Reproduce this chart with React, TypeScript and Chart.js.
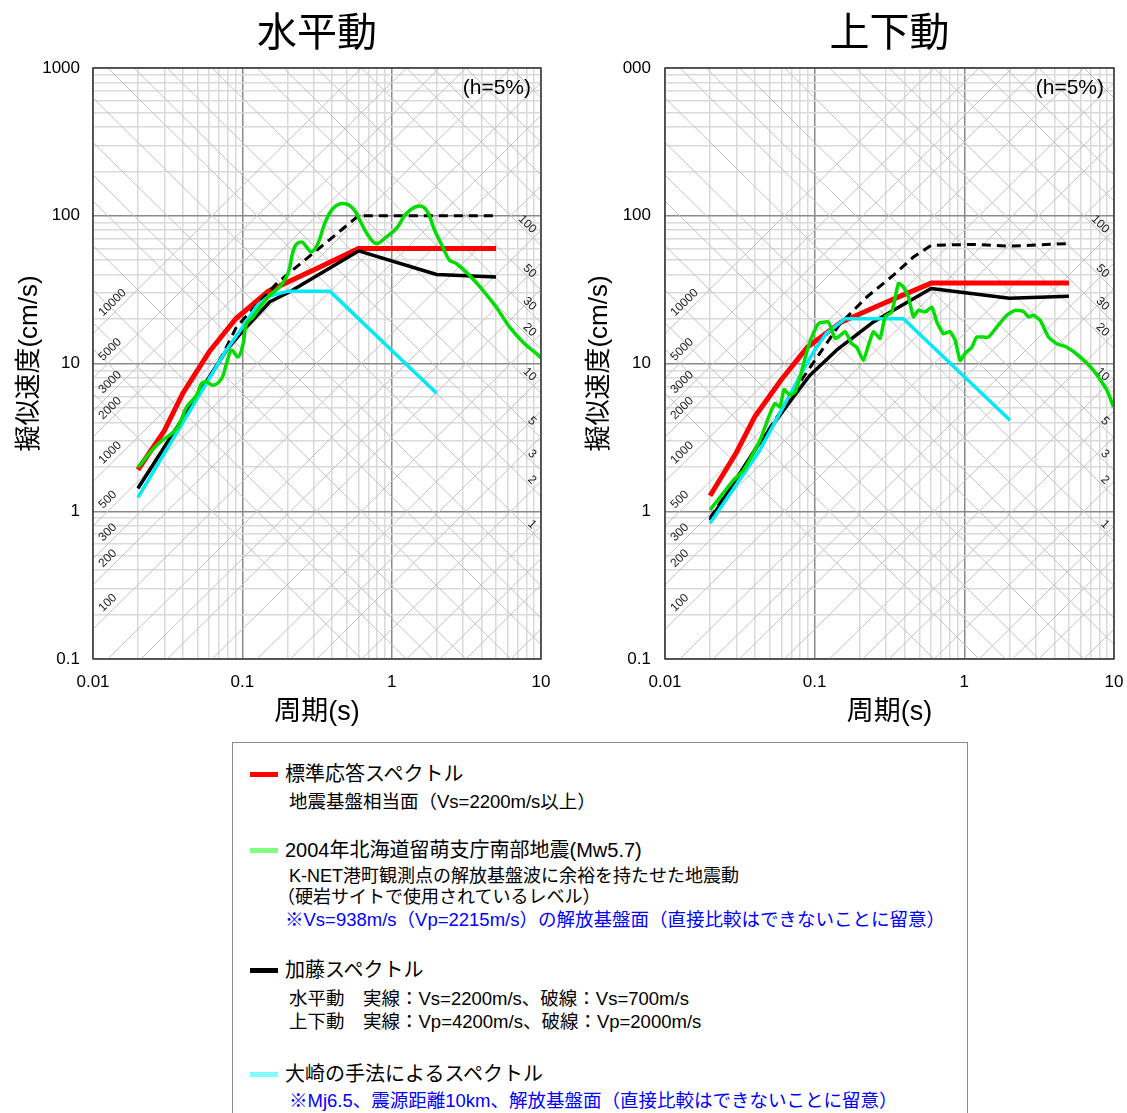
import React, { useEffect, useRef } from 'react';
import { Chart, registerables } from 'chart.js';

Chart.register(...registerables);

const FONT = "'Liberation Sans', 'Noto Sans CJK JP', sans-serif";

// ---- axes ----
const xTickValues = [0.01, 0.1, 1, 10];
const xTickLabels = ['0.01', '0.1', '1', '10'];
const yTickValues = [0.1, 1, 10, 100, 1000];
const yTickLabelsH = ['0.1', '1', '10', '100', '1000'];
const yTickLabelsV = ['0.1', '1', '10', '100', '000'];

// ---- tripartite grid (acceleration gal / displacement cm) ----
const accelLines = [0.1, 0.2, 0.3, 0.5, 1, 2, 3, 5, 10, 20, 30, 50, 100, 200, 300, 500, 1000, 2000, 3000, 5000, 10000];
const accelLabels = [100, 200, 300, 500, 1000, 2000, 3000, 5000, 10000];
const dispLines = [0.01, 0.02, 0.03, 0.05, 0.1, 0.2, 0.3, 0.5, 1, 2, 3, 5, 10, 20, 30, 50, 100, 200, 300, 500, 1000, 2000];
const dispLabels = [1, 2, 3, 5, 10, 20, 30, 50, 100];

// ---- 水平動 ----
const periodStdH = [0.02, 0.03, 0.04, 0.06, 0.09, 0.15, 0.3, 0.6, 5];
const svStdH = [1.91, 3.5, 6.3, 12, 20, 31, 43, 60, 60];

const periodRumoiH = [0.02, 0.0267, 0.0363, 0.0424, 0.0494, 0.0533, 0.0576, 0.0638, 0.0726, 0.0784, 0.0847, 0.0937, 0.1012, 0.1067, 0.1181, 0.131, 0.153, 0.178, 0.202, 0.224, 0.249, 0.269, 0.29, 0.321, 0.356, 0.405, 0.472, 0.551, 0.611, 0.694, 0.79, 0.922, 1.075, 1.254, 1.5, 1.71, 1.94, 2.2, 2.44, 2.71, 3.32, 4.08, 5.01, 6.15, 7.55, 9.29, 10];
const svRumoiH = [1.98, 2.8, 3.63, 5.08, 6.1, 7.32, 7.5, 7.13, 7.91, 10.0, 12.3, 11.1, 13.6, 18.6, 20.7, 24.1, 29.0, 33.0, 40.6, 61.5, 66.5, 61.5, 56.9, 64.9, 88.5, 112, 121, 112, 93.3, 73.8, 64.9, 71.9, 81.9, 103.5, 116, 109, 79.8, 61.5, 50.0, 47.5, 39.6, 31.3, 24.1, 17.7, 14.0, 11.7, 10.9];

const periodKatoH = [0.02, 0.078, 0.1, 0.153, 0.208, 0.6, 2, 5];
const svKatoH = [1.43, 12.2, 16.5, 26.2, 30.6, 57.8, 40, 38.5];

const periodKato700H = [0.02, 0.0707, 0.0914, 0.1695, 0.6, 5];
const svKato700H = [1.43, 10.5, 17.7, 34.8, 100, 100];

const periodOsakiH = [0.02, 0.078, 0.1, 0.125, 0.15, 0.2, 0.385, 2];
const svOsakiH = [1.24, 12.3, 17.5, 24.5, 28.5, 30.8, 30.8, 6.3];

// ---- 上下動 ----
const periodStdV = [0.02, 0.03, 0.04, 0.06, 0.09, 0.15, 0.3, 0.6, 5];
const svStdV = [1.273, 2.5, 4.4, 7.8, 13, 19, 26, 35, 35];

const periodRumoiV = [0.02, 0.0286, 0.0334, 0.0431, 0.0503, 0.0544, 0.0587, 0.0624, 0.0685, 0.074, 0.0799, 0.0886, 0.0956, 0.1059, 0.1235, 0.13, 0.1369, 0.144, 0.1597, 0.177, 0.1911, 0.2116, 0.2286, 0.2469, 0.2736, 0.2955, 0.3277, 0.3627, 0.3917, 0.423, 0.4569, 0.4934, 0.547, 0.6065, 0.655, 0.725, 0.8036, 0.868, 0.9374, 1.0123, 1.1222, 1.2119, 1.449, 1.65, 1.924, 2.186, 2.484, 2.683, 2.897, 3.212, 3.65, 4.153, 4.844, 5.945, 7.295, 8.966, 9.924];
const svRumoiV = [1.02, 1.62, 1.89, 3.02, 4.58, 5.36, 5.08, 6.66, 6.1, 6.42, 8.11, 12.0, 15.1, 18.6, 19.1, 16.8, 14.8, 15.1, 16.4, 13.6, 12.9, 10.5, 13.3, 16.4, 14.8, 20.7, 22.3, 34.8, 33.0, 28.2, 20.7, 22.9, 22.3, 24.1, 19.1, 15.9, 16.4, 14.4, 10.5, 11.7, 12.9, 15.1, 15.1, 17.7, 21.2, 22.9, 22.5, 20.7, 21.2, 19.6, 15.1, 13.6, 12.9, 11.1, 9.0, 6.6, 5.08];

const periodKatoV = [0.02, 0.041, 0.072, 0.093, 0.14, 0.247, 0.336, 0.6, 2, 5];
const svKatoV = [0.87, 2.72, 5.94, 8.33, 12.3, 19.1, 22.9, 32.2, 27.6, 28.5];

const periodKato2000V = [0.02, 0.084, 0.148, 0.223, 0.336, 0.457, 0.6, 1.15, 2, 5];
const svKato2000V = [0.9, 8.07, 18.6, 28.2, 39.6, 52.6, 63.1, 64, 62.2, 64.9];

const periodOsakiV = [0.02, 0.043, 0.0885, 0.103, 0.12, 0.16, 0.392, 2.02];
const svOsakiV = [0.83, 2.59, 10, 12.9, 16, 20.1, 20.1, 4.13];

// ---- helpers ----
function logGrid(min: number, max: number): number[] {
  const out: number[] = [];
  for (let e = Math.round(Math.log10(min)); e < Math.round(Math.log10(max)); e++) {
    for (let k = 1; k < 10; k++) out.push(k * Math.pow(10, e));
  }
  out.push(max);
  return out;
}
const isDecade = (v: number) => v > 0 && Math.abs(Math.log10(v) - Math.round(Math.log10(v))) < 1e-6;
const labelFor = (v: number, vals: number[], labels: string[]) => {
  for (let i = 0; i < vals.length; i++) if (Math.abs(Math.log10(v) - Math.log10(vals[i])) < 1e-6) return labels[i];
  return '';
};
const series = (T: number[], SV: number[], color: string, width: number, dash: number[] = [], tension = 0) => ({
  data: T.map((t, i) => ({ x: t, y: SV[i] })),
  borderColor: color,
  backgroundColor: color,
  borderWidth: width,
  borderDash: dash,
  pointRadius: 0,
  tension,
  fill: false,
  borderJoinStyle: 'round' as const,
});

const tripartitePlugin = {
  id: 'tripartite',
  beforeDatasetsDraw(chart: any) {
    const { ctx, chartArea: a } = chart;
    const xs = chart.scales.x;
    const ys = chart.scales.y;
    const tMin = xs.min;
    const tMax = xs.max;
    const px = (t: number) => xs.getPixelForValue(t);
    const py = (v: number) => ys.getPixelForValue(v);
    ctx.save();
    ctx.beginPath();
    ctx.rect(a.left, a.top, a.right - a.left, a.bottom - a.top);
    ctx.clip();
    ctx.strokeStyle = '#c2c2c2';
    ctx.lineWidth = 1;
    ctx.beginPath();
    for (const A of accelLines) {
      const k = A / (2 * Math.PI);
      ctx.moveTo(px(tMin), py(k * tMin));
      ctx.lineTo(px(tMax), py(k * tMax));
    }
    for (const D of dispLines) {
      const k = 2 * Math.PI * D;
      ctx.moveTo(px(tMin), py(k / tMin));
      ctx.lineTo(px(tMax), py(k / tMax));
    }
    ctx.stroke();

    ctx.fillStyle = '#222';
    ctx.font = `12px ${FONT}`;
    for (const A of accelLabels) {
      const k = A / (2 * Math.PI);
      const x0 = a.left + 10;
      const t0 = xs.getValueForPixel(x0);
      const y0 = py(k * t0) - 7;
      const ang = Math.atan2(py(k * tMax) - py(k * tMin), px(tMax) - px(tMin));
      ctx.save();
      ctx.translate(x0, y0);
      ctx.rotate(ang);
      ctx.textAlign = 'left';
      ctx.textBaseline = 'alphabetic';
      ctx.fillText(String(A), 0, 0);
      ctx.restore();
    }
    for (const D of dispLabels) {
      const k = 2 * Math.PI * D;
      const x0 = a.right - 9;
      const t0 = xs.getValueForPixel(x0);
      const y0 = py(k / t0) - 3;
      const ang = Math.atan2(py(k / tMax) - py(k / tMin), px(tMax) - px(tMin));
      ctx.save();
      ctx.translate(x0, y0);
      ctx.rotate(ang);
      ctx.textAlign = 'right';
      ctx.textBaseline = 'alphabetic';
      ctx.fillText(String(D), 0, 0);
      ctx.restore();
    }
    ctx.restore();
  },
  afterDraw(chart: any, _args: any, opts: any) {
    const { ctx, chartArea: a } = chart;
    ctx.save();
    ctx.strokeStyle = '#3a3a3a';
    ctx.lineWidth = 1.5;
    ctx.strokeRect(a.left, a.top, a.right - a.left, a.bottom - a.top);
    ctx.fillStyle = '#000';
    ctx.font = `21px ${FONT}`;
    ctx.textAlign = 'right';
    ctx.textBaseline = 'middle';
    ctx.fillText(opts.note, a.right - 10, a.top + 20);
    ctx.font = `40px ${FONT}`;
    ctx.textAlign = 'center';
    ctx.fillText(opts.title, (a.left + a.right) / 2, 35);
    ctx.restore();
  },
};

function makeConfig(kind: 'H' | 'V') {
  const H = kind === 'H';
  const yLabels = H ? yTickLabelsH : yTickLabelsV;
  const datasets = H
    ? [
        series(periodRumoiH, svRumoiH, '#00dd00', 3.5, [], 0.4),
        series(periodOsakiH, svOsakiH, '#00eaf6', 3.5),
        series(periodKatoH, svKatoH, '#000000', 3.5),
        series(periodKato700H, svKato700H, '#000000', 3, [9, 6]),
        series(periodStdH, svStdH, '#ff0000', 5),
      ]
    : [
        series(periodRumoiV, svRumoiV, '#00dd00', 3.5, [], 0.15),
        series(periodOsakiV, svOsakiV, '#00eaf6', 3.5),
        series(periodKatoV, svKatoV, '#000000', 3.5),
        series(periodKato2000V, svKato2000V, '#000000', 3, [9, 6]),
        series(periodStdV, svStdV, '#ff0000', 5),
      ];
  const gridColor = (c: any) => (c.tick && isDecade(c.tick.value) ? '#8a8a8a' : '#dadada');
  return {
    type: 'line' as const,
    data: { datasets },
    plugins: [tripartitePlugin],
    options: {
      responsive: false,
      animation: false as const,
      layout: { padding: { top: 68, left: 0, bottom: 0, right: H ? 24 : 26 } },
      plugins: {
        legend: { display: false },
        tooltip: { enabled: false },
        title: { display: false },
        tripartite: { title: H ? '水平動' : '上下動', note: '(h=5%)' },
      },
      scales: {
        x: {
          type: 'logarithmic' as const,
          min: 0.01,
          max: 10,
          afterBuildTicks: (s: any) => {
            s.ticks = logGrid(0.01, 10).map((v) => ({ value: v }));
          },
          afterFit: (s: any) => {
            s.height = 81;
          },
          border: { display: false },
          grid: { color: gridColor, lineWidth: 1.5, drawTicks: false },
          ticks: {
            autoSkip: false,
            maxRotation: 0,
            minRotation: 0,
            padding: 13,
            color: '#000',
            font: { size: 17, family: FONT },
            callback: (v: any) => labelFor(Number(v), xTickValues, xTickLabels),
          },
          title: {
            display: true,
            text: '周期(s)',
            color: '#000',
            font: { size: 27, family: FONT },
            padding: { top: 0, bottom: 11 },
          },
        },
        y: {
          type: 'logarithmic' as const,
          min: 0.1,
          max: 1000,
          afterBuildTicks: (s: any) => {
            s.ticks = logGrid(0.1, 1000).map((v) => ({ value: v }));
          },
          afterFit: (s: any) => {
            s.width = H ? 93 : 100;
          },
          border: { display: false },
          grid: { color: gridColor, lineWidth: 1.5, drawTicks: false },
          ticks: {
            autoSkip: false,
            padding: H ? 13 : 14,
            color: '#000',
            font: { size: 17, family: FONT },
            callback: (v: any) => labelFor(Number(v), yTickValues, yLabels),
          },
          title: {
            display: true,
            text: '擬似速度(cm/s)',
            color: '#000',
            font: { size: 26, family: FONT },
            padding: { top: H ? 14.4 : 19.4, bottom: 0 },
          },
        },
      },
    },
  };
}

const legendStyle = (left: number, cy: number, size: number, color = '#000'): React.CSSProperties => ({
  position: 'absolute',
  left,
  top: cy - 13,
  height: 26,
  lineHeight: '26px',
  fontSize: size,
  color,
  whiteSpace: 'nowrap',
  fontFamily: FONT,
});
const swatch = (cy: number, color: string): React.CSSProperties => ({
  position: 'absolute',
  left: 250,
  top: cy - 2.5,
  width: 28,
  height: 5,
  background: color,
});

export default function App() {
  const refH = useRef<HTMLCanvasElement>(null);
  const refV = useRef<HTMLCanvasElement>(null);
  useEffect(() => {
    const c1 = new Chart(refH.current as HTMLCanvasElement, makeConfig('H') as any);
    const c2 = new Chart(refV.current as HTMLCanvasElement, makeConfig('V') as any);
    return () => {
      c1.destroy();
      c2.destroy();
    };
  }, []);
  return (
    <div style={{ position: 'absolute', left: 0, top: 0, width: 1127, height: 1113, overflow: 'hidden', background: '#fff' }}>
      <canvas ref={refH} width={565} height={740} style={{ position: 'absolute', left: 0, top: 0, width: 565, height: 740 }} />
      <canvas ref={refV} width={575} height={740} style={{ position: 'absolute', left: 565, top: 0, width: 575, height: 740 }} />
      <div style={{ position: 'absolute', left: 232, top: 742, width: 734, height: 420, border: '1.5px solid #8c8c8c' }} />
      <div style={swatch(774, '#ff0000')} />
      <div style={legendStyle(285, 774, 20)}>標準応答スペクトル</div>
      <div style={legendStyle(289, 802, 18.5)}>地震基盤相当面（Vs=2200m/s以上）</div>
      <div style={swatch(850, '#80ff80')} />
      <div style={legendStyle(285, 850, 20)}>2004年北海道留萌支庁南部地震(Mw5.7)</div>
      <div style={legendStyle(289, 876, 18)}>K-NET港町観測点の解放基盤波に余裕を持たせた地震動</div>
      <div style={legendStyle(277, 897, 18)}>（硬岩サイトで使用されているレベル）</div>
      <div style={legendStyle(285, 920, 18.5, '#0000ff')}>※Vs=938m/s（Vp=2215m/s）の解放基盤面（直接比較はできないことに留意）</div>
      <div style={swatch(970, '#000000')} />
      <div style={legendStyle(285, 970, 20)}>加藤スペクトル</div>
      <div style={legendStyle(289, 999, 18.5)}>水平動　実線：Vs=2200m/s、破線：Vs=700m/s</div>
      <div style={legendStyle(289, 1022, 18.5)}>上下動　実線：Vp=4200m/s、破線：Vp=2000m/s</div>
      <div style={swatch(1074, '#80ffff')} />
      <div style={legendStyle(285, 1074, 20)}>大崎の手法によるスペクトル</div>
      <div style={legendStyle(289, 1101, 18.5, '#0000ff')}>※Mj6.5、震源距離10km、解放基盤面（直接比較はできないことに留意）</div>
    </div>
  );
}
